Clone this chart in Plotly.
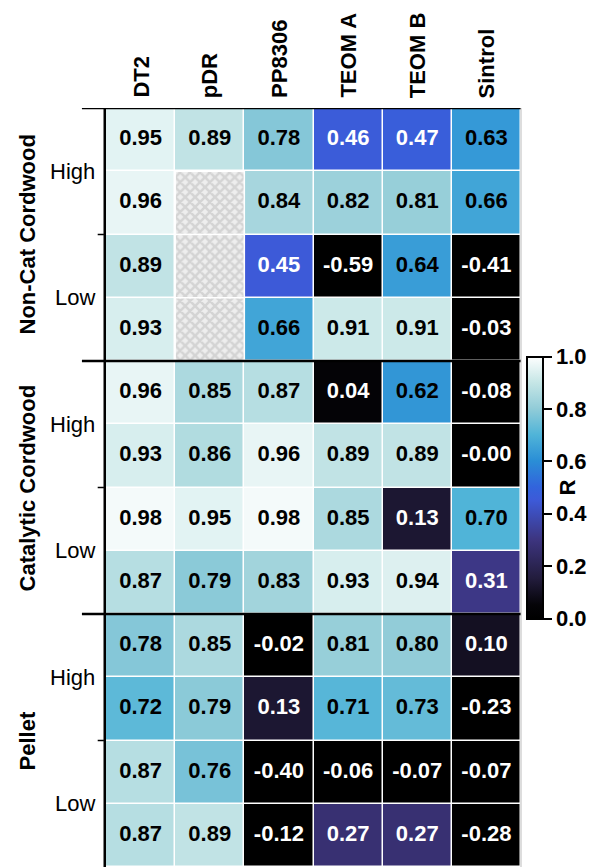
import plotly.graph_objects as go
import math

columns = ["DT2", "pDR", "PP8306", "TEOM A", "TEOM B", "Sintrol"]
groups = ["Non-Cat Cordwood", "Catalytic Cordwood", "Pellet"]
levels = ["High", "Low"]
nan = float("nan")

noncat_high = [[0.95, 0.89, 0.78, 0.46, 0.47, 0.63],
               [0.96, nan, 0.84, 0.82, 0.81, 0.66]]
noncat_low = [[0.89, nan, 0.45, -0.59, 0.64, -0.41],
              [0.93, nan, 0.66, 0.91, 0.91, -0.03]]
cat_high = [[0.96, 0.85, 0.87, 0.04, 0.62, -0.08],
            [0.93, 0.86, 0.96, 0.89, 0.89, -0.0]]
cat_low = [[0.98, 0.95, 0.98, 0.85, 0.13, 0.70],
           [0.87, 0.79, 0.83, 0.93, 0.94, 0.31]]
pellet_high = [[0.78, 0.85, -0.02, 0.81, 0.80, 0.10],
               [0.72, 0.79, 0.13, 0.71, 0.73, -0.23]]
pellet_low = [[0.87, 0.76, -0.40, -0.06, -0.07, -0.07],
              [0.87, 0.89, -0.12, 0.27, 0.27, -0.28]]

rows = noncat_high + noncat_low + cat_high + cat_low + pellet_high + pellet_low
nrow = len(rows)
ncol = len(columns)

colorscale = [
    [0.0, "#000000"],
    [0.05, "#050408"],
    [0.15, "#221c3c"],
    [0.3, "#3d3580"],
    [0.45, "#3d5ad8"],
    [0.5, "#3264dc"],
    [0.6, "#2a8ed6"],
    [0.7, "#50b4d8"],
    [0.8, "#92ccd8"],
    [0.9, "#c6e6e6"],
    [1.0, "#ffffff"],
]

FONT = "Arial, Liberation Sans, Helvetica, sans-serif"
FS = 22

fig = go.Figure()
fig.add_trace(go.Heatmap(
    z=rows, x=list(range(ncol)), y=list(range(nrow)),
    zmin=0, zmax=1, colorscale=colorscale, xgap=1.5, ygap=1.5,
    hoverongaps=False,
    colorbar=dict(
        x=1.0145, xanchor="left", xref="paper", y=0.5, yanchor="middle",
        xpad=0, ypad=0,
        lenmode="pixels", len=262, thickness=16,
        outlinewidth=2, outlinecolor="black",
        ticks="outside", ticklen=8, tickwidth=2, tickcolor="black",
        tickvals=[0, 0.2, 0.4, 0.6, 0.8, 1.0], ticktext=["0.0", "0.2", "0.4", "0.6", "0.8", "1.0"],
        tickfont=dict(family=FONT, size=FS, color="black", weight="bold"),
        title=dict(text="R", side="right", font=dict(family=FONT, size=FS, color="black", weight="bold")),
    ),
))

# hatched (missing) cells
hx, hb = [], []
for r in range(nrow):
    for c in range(ncol):
        if isinstance(rows[r][c], float) and math.isnan(rows[r][c]):
            hx.append(c)
            hb.append(r - 0.5)
fig.add_trace(go.Bar(
    x=hx, y=[1] * len(hx), base=hb, width=1,
    marker=dict(color="#ececec", line=dict(color="white", width=1.5),
                pattern=dict(shape="x", fgcolor="#bababa", bgcolor="#eeeeee", size=7, solidity=0.6)),
    hoverinfo="skip", showlegend=False,
))

# cell texts
tx, ty, tt, tc = [], [], [], []
for r in range(nrow):
    for c in range(ncol):
        v = rows[r][c]
        if isinstance(v, float) and math.isnan(v):
            continue
        tx.append(c)
        ty.append(r)
        tt.append(f"{v:.2f}")
        tc.append("white" if v < 0.5 else "black")
fig.add_trace(go.Scatter(
    x=tx, y=ty, text=tt, mode="text",
    textfont=dict(family=FONT, size=FS, color=tc, weight="bold"),
    hoverinfo="skip", showlegend=False,
))

fig.update_layout(
    width=607, height=859,
    margin=dict(l=98, r=94, t=100, b=0),
    plot_bgcolor="white", paper_bgcolor="white",
    showlegend=False,
    barmode="overlay",
    xaxis=dict(range=[-0.5, ncol - 0.5], showticklabels=False, showgrid=False, zeroline=False, fixedrange=True),
    yaxis=dict(range=[nrow - 0.5, -0.5], showticklabels=False, showgrid=False, zeroline=False, fixedrange=True),
)

ann = []
for c, name in enumerate(columns):
    ann.append(dict(x=c, xref="x", y=1, yref="paper", yanchor="bottom", yshift=8,
                    text=name, textangle=-90, showarrow=False,
                    font=dict(family=FONT, size=FS, color="black", weight="bold")))
for g, gname in enumerate(groups):
    ann.append(dict(x=-0.188, xref="paper", y=g * 4 + 1.5, yref="y", text=gname, textangle=-90,
                    showarrow=False, xanchor="center",
                    font=dict(family=FONT, size=FS, color="black", weight="bold")))
    for l, lname in enumerate(levels):
        ann.append(dict(x=-0.022, xref="paper", y=g * 4 + l * 2 + 0.5, yref="y", text=lname,
                        showarrow=False, xanchor="right",
                        font=dict(family=FONT, size=FS, color="black")))
fig.update_layout(annotations=ann)

shapes = []
for g in range(len(groups)):
    yb = g * 4 - 0.5
    shapes.append(dict(type="line", xref="paper", yref="y", x0=-0.058, x1=1.0, y0=yb, y1=yb,
                       line=dict(color="black", width=2.5)))
    ym = g * 4 + 1.5
    shapes.append(dict(type="line", xref="paper", yref="y", x0=-0.02, x1=-0.005, y0=ym, y1=ym,
                       line=dict(color="black", width=1.5)))
shapes.append(dict(type="line", xref="paper", yref="y", x0=-0.003, x1=-0.003, y0=-0.5, y1=nrow - 0.5,
                   line=dict(color="black", width=2.5)))
shapes.append(dict(type="line", xref="paper", yref="y", x0=1.0, x1=1.0, y0=-0.5, y1=nrow - 0.5,
                   line=dict(color="#bbbbbb", width=1)))
fig.update_layout(shapes=shapes)

fig.write_html("out.html")
